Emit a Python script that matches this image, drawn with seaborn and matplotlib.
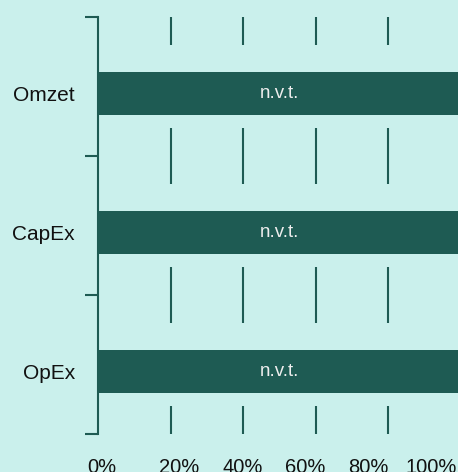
import numpy as np
import matplotlib
matplotlib.use('Agg')
import matplotlib.pyplot as plt
import seaborn as sns

sns.set_style('white')
plt.rcParams['font.family'] = ['Liberation Sans', 'DejaVu Sans']

categories = ['Omzet', 'CapEx', 'OpEx']
values = [100, 100, 100]
bar_labels = ['n.v.t.', 'n.v.t.', 'n.v.t.']
grid_ticks = [20, 40, 60, 80]
x_ticks = [0, 20, 40, 60, 80, 100]
x_tick_labels = ['0%', '20%', '40%', '60%', '80%', '100%']

teal = '#1e5b53'
bg = '#caf0ec'

fig = plt.figure(figsize=(4.58, 4.72), dpi=100, facecolor=bg)
ax = fig.add_axes([0.214, 0.0805, 0.7915, 0.8835])
ax.set_facecolor(bg)

# real bars
sns.barplot(x=values, y=categories, orient='h', color=teal, width=0.31,
            saturation=1, linewidth=0, ax=ax, zorder=2)

# background band around each bar hides the grid there
ax.barh(np.arange(len(categories)) - 0.05, values, height=0.6, color=bg,
        linewidth=0, zorder=1)

ax.bar_label(ax.containers[0], labels=bar_labels, label_type='center',
             color='#eeeeee', fontsize=13.5)

ax.set_xlim(0, 100)
ax.set_xticks(grid_ticks)
ax.grid(axis='x', color=teal, lw=1.5)
ax.grid(axis='y', visible=False)
ax.set_axisbelow(True)
ax.tick_params(axis='x', length=0, labelbottom=False)
ax.set_xlabel('')
ax.set_ylabel('')

ax.set_ylim(len(categories) - 0.55, -0.55)
ax.set_yticks(np.arange(len(categories) + 1) - 0.55, minor=True)
ax.tick_params(axis='y', which='minor', left=True, length=9.4, width=1.5, color=teal)
ax.tick_params(axis='y', which='major', length=0, pad=16.5, labelsize=15, labelcolor='#111111')

for s in ['top', 'right', 'bottom']:
    ax.spines[s].set_visible(False)
ax.spines['left'].set_color(teal)
ax.spines['left'].set_linewidth(1.5)


# percentage labels sit on their own scale under the axis
def to_label(x):
    return (x - 5.1) / 0.869


def from_label(v):
    return v * 0.869 + 5.1


sec = ax.secondary_xaxis('bottom', functions=(to_label, from_label))
sec.set_xticks(x_ticks, x_tick_labels)
sec.tick_params(length=0, pad=17.5, labelsize=14.5, labelcolor='#111111')
for s in sec.spines.values():
    s.set_visible(False)
sec.get_xticklabels()[0].set_ha('right')

fig.savefig('out.png', dpi=100, facecolor=bg)
